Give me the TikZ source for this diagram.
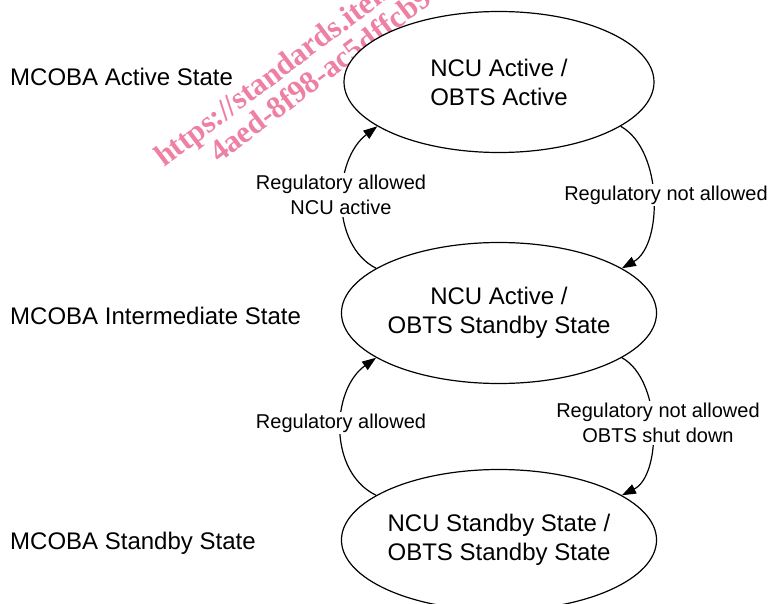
\documentclass[tikz,border=0pt]{standalone}
\usepackage{fontspec}
\setmainfont{Liberation Sans}
\newfontfamily\wmfont{Liberation Serif}
\usetikzlibrary{shapes.geometric,arrows.meta}
\definecolor{wmpink}{RGB}{237,128,163}
\tikzset{
  state/.style={ellipse, draw, line width=1.2pt, fill=white, minimum width=310pt, minimum height=141pt, inner sep=0pt, align=center, font=\fontsize{24}{29}\selectfont},
  lvl/.style={anchor=base west, inner sep=0pt, font=\fontsize{24}{29}\selectfont},
  elabel/.style={fill=white, inner sep=2pt, align=center, font=\fontsize{20}{24.5}\selectfont},
  trans/.style={line width=1.2pt, -{Triangle[length=14pt,width=10pt]}},
  wm/.style={anchor=base west, inner sep=0pt, rotate=37, text=wmpink, font=\wmfont\bfseries\fontsize{31}{35}\selectfont}
}
\begin{document}
\begin{tikzpicture}[x=1pt,y=-1pt]
\useasboundingbox (0,0) rectangle (771,604);
\clip (0,0) rectangle (771,604);
\node[wm] (wm1) at (164,168) {https://standards.iteh};
\node[wm] (wm2) at (219,164) {4aed-8f98-ac5dffcb9};
\node[lvl] (l1) at (10,86) {MCOBA Active State};
\node[lvl] (l2) at (10,324) {MCOBA Intermediate State};
\node[lvl] (l3) at (10,549) {MCOBA Standby State};
\node[state] (top) at (499,82) {NCU Active /\\OBTS Active};
\node[state] (mid) at (499,313) {NCU Active /\\OBTS Standby State};
\node[state] (bot) at (499,540) {NCU Standby State /\\OBTS Standby State};
\draw[trans] (mid.160) .. controls (330,245) and (333,160) .. (top.200);
\draw[trans] (top.340) .. controls (663,150) and (663,245) .. (mid.20);
\draw[trans] (bot.160) .. controls (328,472) and (331,390) .. (mid.200);
\draw[trans] (mid.340) .. controls (662,380) and (662,475) .. (bot.20);
\node[elabel] (e1) at (341,195) {Regulatory allowed\\NCU active};
\node[elabel] (e2) at (666,195) {Regulatory not allowed};
\node[elabel] (e3) at (341,423) {Regulatory allowed};
\node[elabel] (e4) at (658,423) {Regulatory not allowed\\OBTS shut down};
\end{tikzpicture}
\end{document}
